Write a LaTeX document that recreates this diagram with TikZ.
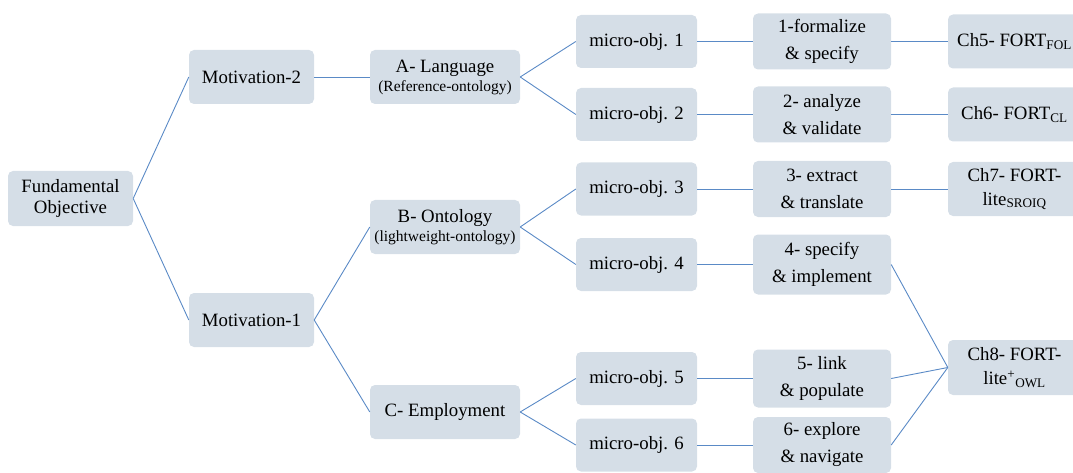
\documentclass[tikz,border=0pt]{standalone}
\usepackage{fontspec}
\setmainfont{Liberation Serif}
\definecolor{boxfill}{HTML}{D5DEE7}
\definecolor{linecol}{HTML}{5A8AC6}
\begin{document}
\begin{tikzpicture}[x=1pt,y=-1pt,
  box/.style={fill=boxfill, rounded corners=5pt, align=center, inner sep=0pt,
    font=\fontsize{18.8}{21}\selectfont},
  mot/.style={box, minimum width=125, minimum height=54},
  lev/.style={box, minimum width=150, minimum height=54},
  micro/.style={box, minimum width=121, minimum height=53},
  task/.style={box, minimum width=138, minimum height=56, font=\fontsize{18.8}{27}\selectfont},
  chap/.style={box, minimum width=133, minimum height=54, font=\fontsize{18.8}{24}\selectfont},
  ln/.style={draw=linecol, line width=0.9pt}]
\useasboundingbox (0,0) rectangle (1073,473);
\newcommand{\smallsub}[1]{{\fontsize{15.5}{18}\selectfont #1}}
% nodes
\node[mot, minimum height=55] (fo) at (70.5,198.5) {Fundamental\\Objective};
\node[mot] (m2) at (251.5,77) {Motivation-2};
\node[mot] (m1) at (251.5,320) {Motivation-1};
\node[lev] (la) at (445,77) {A- Language\\[-2pt]\smallsub{(Reference-ontology)}};
\node[lev] (lb) at (445,227) {B- Ontology\\[-2pt]\smallsub{(lightweight-ontology)}};
\node[lev] (lc) at (445,412) {C- Employment};
\node[micro] (u1) at (636.5,41.5) {micro-obj. 1};
\node[micro] (u2) at (636.5,114.5) {micro-obj. 2};
\node[micro] (u3) at (636.5,189) {micro-obj. 3};
\node[micro] (u4) at (636.5,264.5) {micro-obj. 4};
\node[micro] (u5) at (636.5,378.5) {micro-obj. 5};
\node[micro] (u6) at (636.5,445) {micro-obj. 6};
\node[task] (s1) at (822,41.5) {1-formalize\\\& specify};
\node[task] (s2) at (822,114.5) {2- analyze\\\& validate};
\node[task] (s3) at (822,189) {3- extract\\\& translate};
\node[task, minimum height=60] (s4) at (822,264.5) {4- specify\\\& implement};
\node[task, minimum height=58] (s5) at (822,378.5) {5- link\\\& populate};
\node[task] (s6) at (822,445) {6- explore\\\& navigate};
\node[chap] (c5) at (1014.5,41.5) {Ch5- FORT\textsubscript{FOL}};
\node[chap] (c6) at (1014.5,114.5) {Ch6- FORT\textsubscript{CL}};
\node[chap] (c7) at (1014.5,189) {Ch7- FORT-\\lite\textsubscript{SROIQ}};
\node[chap, minimum height=55] (c8) at (1014.5,367.5) {Ch8- FORT-\\lite\textsuperscript{+}\textsubscript{OWL}};
% connectors
\draw[ln] (fo.east) -- (m2.west);
\draw[ln] (fo.east) -- (m1.west);
\draw[ln] (m2.east) -- (la.west);
\draw[ln] (m1.east) -- (lb.west);
\draw[ln] (m1.east) -- (lc.west);
\draw[ln] (la.east) -- (u1.west);
\draw[ln] (la.east) -- (u2.west);
\draw[ln] (lb.east) -- (u3.west);
\draw[ln] (lb.east) -- (u4.west);
\draw[ln] (lc.east) -- (u5.west);
\draw[ln] (lc.east) -- (u6.west);
\draw[ln] (u1.east) -- (s1.west);
\draw[ln] (u2.east) -- (s2.west);
\draw[ln] (u3.east) -- (s3.west);
\draw[ln] (u4.east) -- (s4.west);
\draw[ln] (u5.east) -- (s5.west);
\draw[ln] (u6.east) -- (s6.west);
\draw[ln] (s1.east) -- (c5.west);
\draw[ln] (s2.east) -- (c6.west);
\draw[ln] (s3.east) -- (c7.west);
\draw[ln] (s4.east) -- (c8.west);
\draw[ln] (s5.east) -- (c8.west);
\draw[ln] (s6.east) -- (c8.west);
\end{tikzpicture}
\end{document}
